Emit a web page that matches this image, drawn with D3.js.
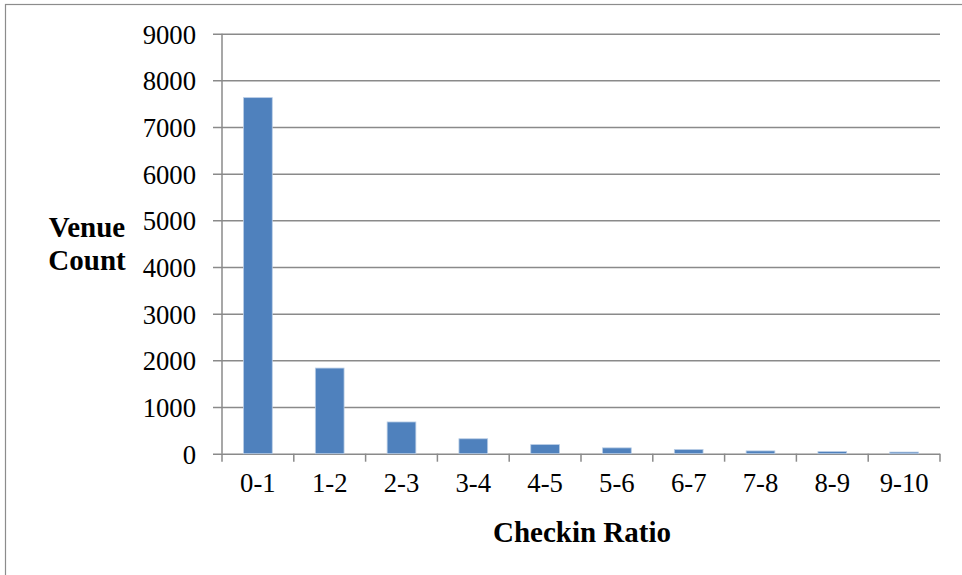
<!DOCTYPE html>
<html>
<head>
<meta charset="utf-8">
<script src="https://cdn.jsdelivr.net/npm/d3@7"></script>
<style>
  html, body { margin: 0; padding: 0; background: #fff; }
  svg { display: block; }
</style>
</head>
<body>
<svg id="chart" width="962" height="575"></svg>
<script>
// Venue counts per checkin-ratio bucket
const categories = ["0-1", "1-2", "2-3", "3-4", "4-5", "5-6", "6-7", "7-8", "8-9", "9-10"];
const venueCounts = [7630, 1835, 680, 320, 195, 125, 90, 60, 45, 35];
const yTicks = [0, 1000, 2000, 3000, 4000, 5000, 6000, 7000, 8000, 9000];

const svg = d3.select("#chart");
const plot = { left: 222, right: 940, top: 33.7, bottom: 453.7 };
const gridColor = "#8a8a8a";
const serif = "Liberation Serif";

// outer frame
svg.append("rect")
  .attr("x", 5.5).attr("y", 4.5)
  .attr("width", 1000).attr("height", 1000)
  .attr("fill", "none").attr("stroke", "#8c8c8c").attr("stroke-width", 1.2);

const x = d3.scaleBand()
  .domain(categories)
  .range([plot.left, plot.right])
  .paddingInner(0.6)
  .paddingOuter(0.3);

const y = d3.scaleLinear()
  .domain([0, 9000])
  .range([plot.bottom, plot.top]);

// horizontal gridlines + y tick labels
const yAxis = svg.append("g")
  .attr("transform", `translate(${plot.left},0)`)
  .call(d3.axisLeft(y)
    .tickValues(yTicks)
    .tickFormat(d3.format("d"))
    .tickSizeInner(-(plot.right - plot.left))
    .tickSizeOuter(0)
    .tickPadding(26));
yAxis.select(".domain").remove();
yAxis.selectAll(".tick line")
  .attr("x1", -9)
  .attr("stroke", gridColor).attr("stroke-width", 1.5);
yAxis.selectAll(".tick text")
  .style("font-family", serif)
  .style("font-size", "26.7px")
  .attr("fill", "#000")
  .attr("dy", "0.36em");

// vertical axis line
svg.append("line")
  .attr("x1", plot.left).attr("x2", plot.left)
  .attr("y1", y(9000)).attr("y2", y(0))
  .attr("stroke", gridColor).attr("stroke-width", 1.5);

// bars
svg.append("g")
  .selectAll("rect")
  .data(categories.map((c, i) => ({ c, v: venueCounts[i] })))
  .join("rect")
  .attr("x", d => x(d.c))
  .attr("width", x.bandwidth())
  .attr("y", d => y(d.v))
  .attr("height", d => y(0) - y(d.v))
  .attr("fill", "#4F81BD")
  .attr("stroke", "#b9cde5")
  .attr("stroke-width", 0.8);

// category boundary ticks along the baseline
const step = x.step();
const boundaries = d3.range(categories.length + 1).map(i => plot.left + i * step);
svg.append("g")
  .selectAll("line")
  .data(boundaries)
  .join("line")
  .attr("x1", d => d).attr("x2", d => d)
  .attr("y1", y(0)).attr("y2", y(0) + 8)
  .attr("stroke", gridColor).attr("stroke-width", 1.5);

// category labels
const xAxis = svg.append("g")
  .attr("transform", `translate(0,${plot.bottom})`)
  .call(d3.axisBottom(x).tickSize(0).tickPadding(19));
xAxis.select(".domain").remove();
xAxis.selectAll(".tick text")
  .style("font-family", serif)
  .style("font-size", "26.7px")
  .attr("fill", "#000")
  .attr("dy", "0.71em");

// axis titles
svg.append("text")
  .attr("x", 582).attr("y", 541.5)
  .attr("text-anchor", "middle")
  .style("font-family", serif)
  .style("font-weight", "bold")
  .style("font-size", "29px")
  .text("Checkin Ratio");

const yTitle = svg.append("text")
  .attr("text-anchor", "middle")
  .style("font-family", serif)
  .style("font-weight", "bold")
  .style("font-size", "29px");
yTitle.append("tspan").attr("x", 87).attr("y", 236.5).text("Venue");
yTitle.append("tspan").attr("x", 87).attr("y", 270).text("Count");
</script>
</body>
</html>
